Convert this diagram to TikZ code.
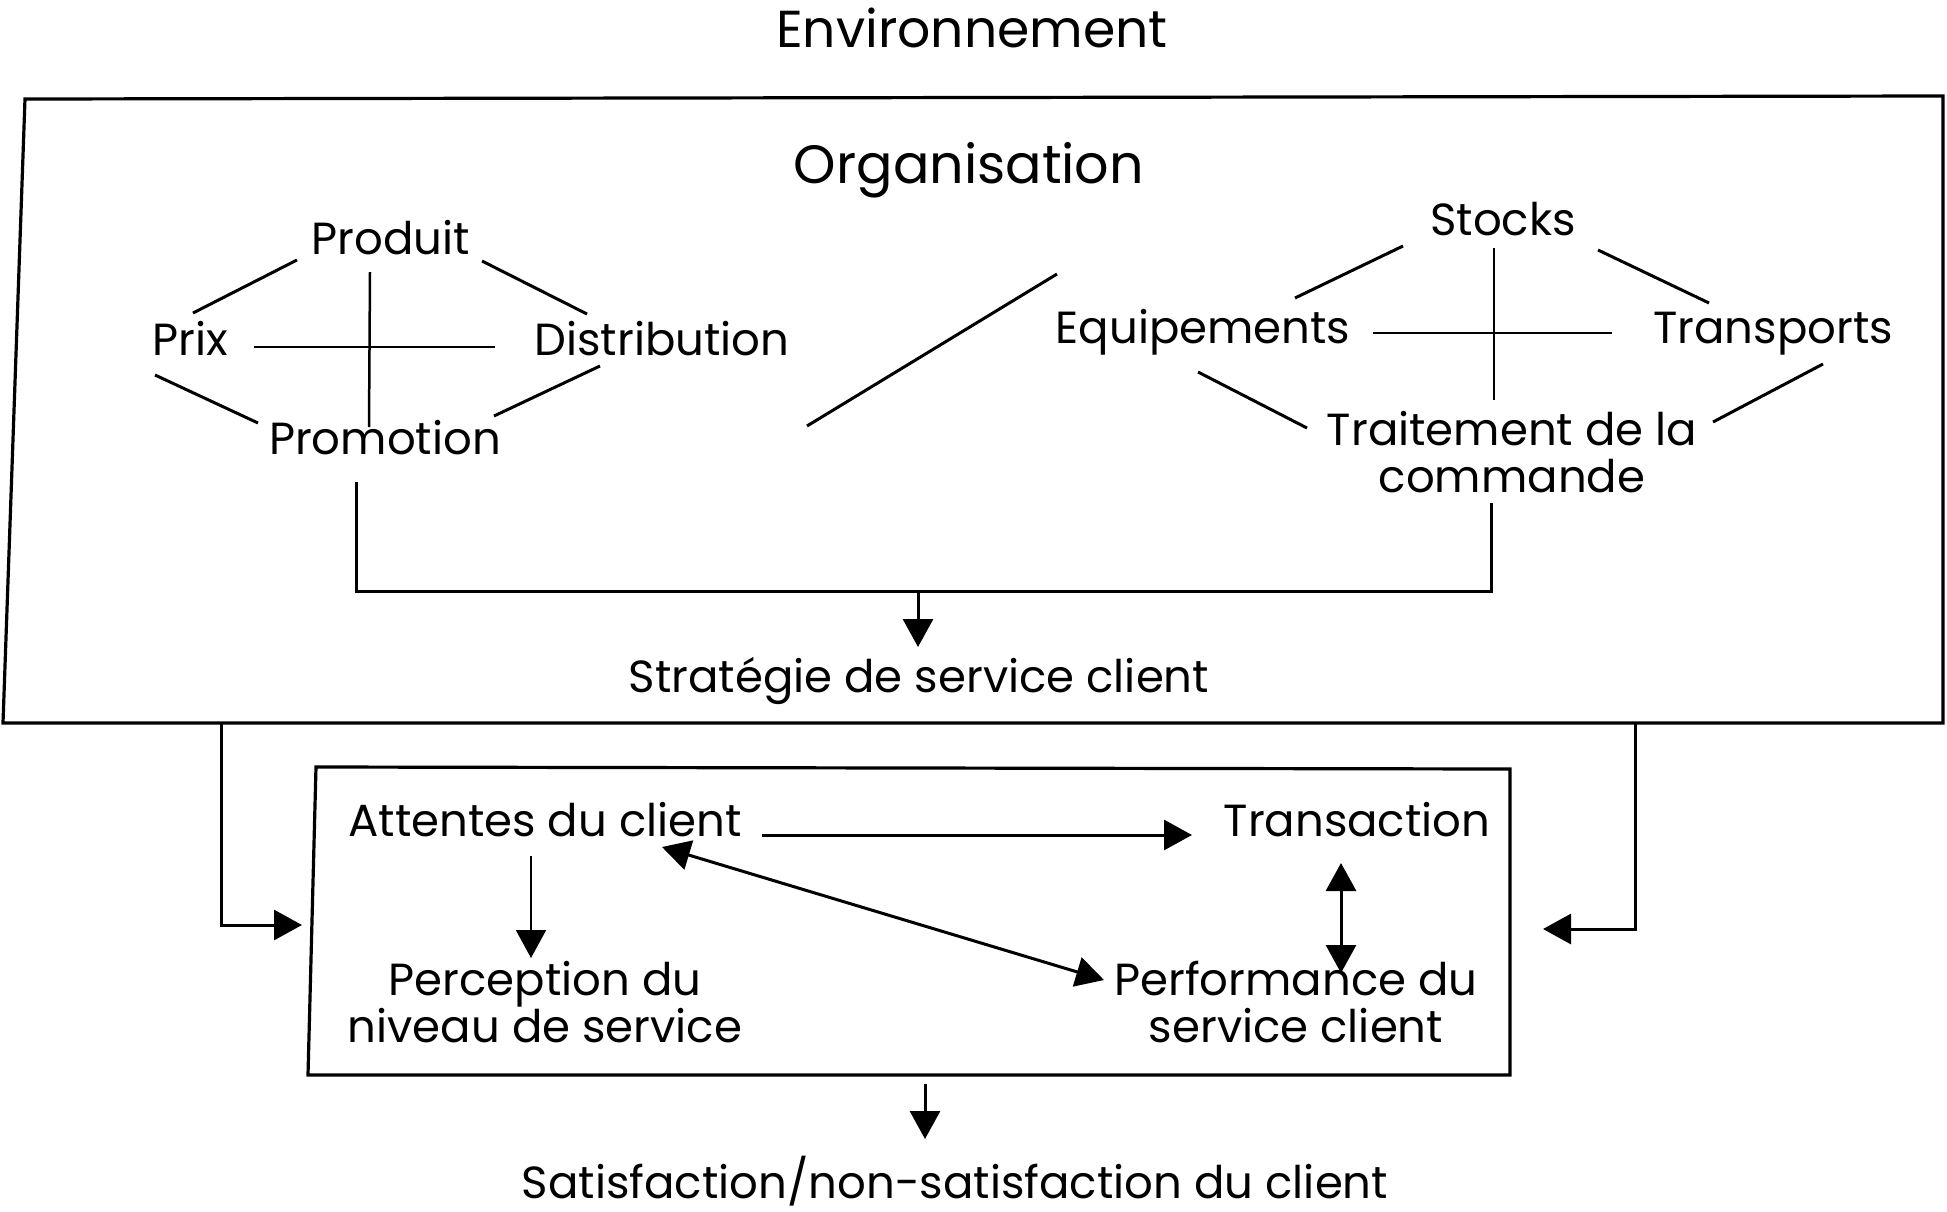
\documentclass[tikz,border=0pt]{standalone}
\usepackage{fontspec}
\setmainfont{Poppins}
\usetikzlibrary{arrows.meta}
\begin{document}
\begin{tikzpicture}[x=1pt,y=-1pt,
  lbl/.style={inner sep=0pt, anchor=base, font=\fontsize{45}{47}\selectfont},
  big/.style={inner sep=0pt, anchor=base, font=\fontsize{52}{56}\selectfont},
  ln/.style={line width=3pt},
  crossln/.style={line width=2.5pt},
  box/.style={line width=3.2pt, line join=miter},
  arr/.style={-{Triangle[length=28pt,width=30pt]}, line width=3pt},
  thinarr/.style={-{Triangle[length=28pt,width=30pt]}, line width=2pt},
  dblarr/.style={{Triangle[length=28pt,width=30pt]}-{Triangle[length=28pt,width=30pt]}, line width=3pt},
]
\useasboundingbox (0,0) rectangle (1947,1211);
\fill[white] (0,0) rectangle (1947,1211);

% titles
\node[big] (env) at (972,47) {Environnement};
\node[big, font=\fontsize{54}{58}\selectfont] (org) at (969,183) {Organisation};

% outer box
\draw[box] (25,99) -- (1943,96) -- (1943,723) -- (3,723) -- cycle;

% left cluster
\node[lbl] (produit) at (391,254) {Produit};
\node[lbl] (prix) at (190,355) {Prix};
\node[lbl] (distrib) at (662,355) {Distribution};
\node[lbl] (promo) at (385,454) {Promotion};
\draw[crossln] (254,347) -- (495,347);
\draw[crossln] (370,272) -- (369,427);
\draw[ln] (193,313) -- (297,260);
\draw[ln] (482,261) -- (587,314);
\draw[ln] (155,375) -- (258,423);
\draw[ln] (494,416) -- (600,366);

% separator
\draw[ln] (807,426) -- (1057,274);

% right cluster
\node[lbl] (stocks) at (1503,235) {Stocks};
\node[lbl] (equip) at (1203,343) {Equipements};
\node[lbl] (transp) at (1773,343) {Transports};
\node[lbl, align=center] (traite) at (1512,492) {Traitement de la\\commande};
\draw[crossln] (1373,333) -- (1612,333);
\draw[crossln] (1494,248) -- (1494,400);
\draw[ln] (1295,298) -- (1403,246);
\draw[ln] (1598,250) -- (1709,303);
\draw[ln] (1198,372) -- (1307,428);
\draw[ln] (1823,364) -- (1713,422);

% bracket to strategy
\draw[ln] (356,482) -- (356,591) -- (1491,591) -- (1491,503);
\node[lbl] (strat) at (919,692) {Stratégie de service client};
\draw[arr] (918,591) -- (918,647);

% inner box
\draw[box] (316,767) -- (1510,769) -- (1510,1075) -- (308,1075) -- cycle;
\node[lbl] (attentes) at (545,836) {Attentes du client};
\node[lbl] (transac) at (1357,836) {Transaction};
\node[lbl, align=center] (percep) at (545,1042) {Perception du\\niveau de service};
\node[lbl, align=center] (perf) at (1296,1042) {Performance du\\service client};
\draw[arr] (762,835) -- (1192,835);
\draw[thinarr] (531,856) -- (531,958);
\draw[dblarr] (662,847) -- (1104,980);
\draw[dblarr] (1341,863) -- (1341,973);

% feedback arrows
\draw[arr] (221,723) -- (221,925) -- (302,925);
\draw[arr] (1635,723) -- (1635,929) -- (1543,929);

% outcome
\draw[arr] (925,1084) -- (925,1139);
\node[lbl] (satis) at (955,1198) {Satisfaction/non-satisfaction du client};
\end{tikzpicture}
\end{document}
